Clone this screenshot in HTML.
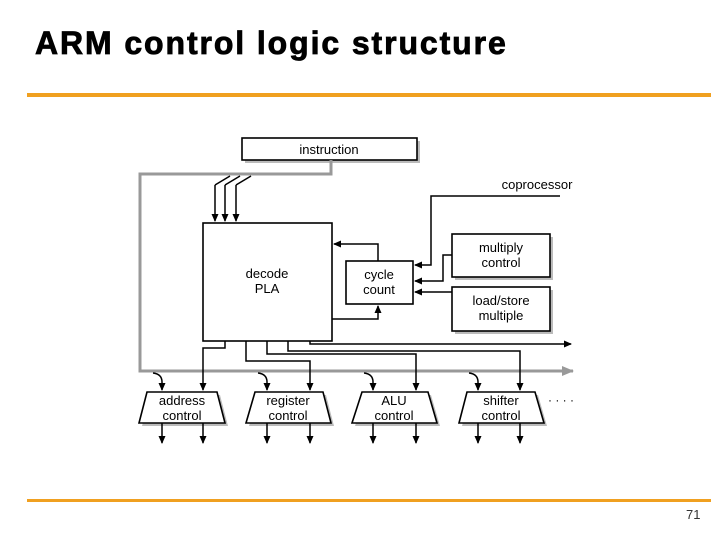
<!DOCTYPE html>
<html><head><meta charset="utf-8"><style>
body{margin:0;width:720px;height:540px;background:#fff;overflow:hidden;position:relative;font-family:"Liberation Sans",sans-serif}
.t{position:absolute;left:35px;top:25px;font-size:32px;font-weight:bold;letter-spacing:1.9px;-webkit-text-stroke:0.8px #000}
.bar{position:absolute;left:27px;width:684px;height:4px;background:#f0a020}
.pg{position:absolute;left:686px;top:507px;font-size:13px;color:#333}
</style></head><body>
<div class="t">ARM control logic structure</div>
<div class="bar" style="top:93px"></div>
<div class="bar" style="top:499px;height:3px"></div>
<div class="pg">71</div>
<svg width="720" height="540" style="position:absolute;left:0;top:0" font-family="Liberation Sans, sans-serif" font-size="13">
<defs>
<marker id="a" markerWidth="8" markerHeight="8" refX="7" refY="4" orient="auto" markerUnits="userSpaceOnUse"><path d="M0,0.5 L8,4 L0,7.5z" fill="#000"/></marker>
<marker id="g" markerWidth="12" markerHeight="10" refX="11" refY="5" orient="auto" markerUnits="userSpaceOnUse"><path d="M0,0 L12,5 L0,10z" fill="#999"/></marker>
</defs>
<g fill="#bbb">
<rect x="245" y="141" width="175" height="22"/>
<rect x="455" y="237" width="98" height="43"/>
<rect x="455" y="290" width="98" height="44"/>
<polygon points="150,395 220,395 228,426 142,426"/>
<polygon points="258,395 326,395 334,426 249,426"/>
<polygon points="365,395 431,395 440,426 355,426"/>
<polygon points="470,395 538,395 547,426 462,426"/>
</g>
<g fill="#fff" stroke="#000" stroke-width="1.6">
<rect x="242" y="138" width="175" height="22"/>
<rect x="203" y="223" width="129" height="118"/>
<rect x="346" y="261" width="67" height="43"/>
<rect x="452" y="234" width="98" height="43"/>
<rect x="452" y="287" width="98" height="44"/>
<polygon points="147,392 217,392 225,423 139,423"/>
<polygon points="255,392 323,392 331,423 246,423"/>
<polygon points="362,392 428,392 437,423 352,423"/>
<polygon points="467,392 535,392 544,423 459,423"/>
</g>
<path d="M331,160 V174 H140 V371 H573" fill="none" stroke="#999" stroke-width="3" marker-end="url(#g)"/>
<g fill="none" stroke="#000" stroke-width="1.5">
<path d="M215,185 L230,176"/><path d="M215,185 V221" marker-end="url(#a)"/>
<path d="M225,185 L240,176"/><path d="M225,185 V221" marker-end="url(#a)"/>
<path d="M236,185 L251,176"/><path d="M236,185 V221" marker-end="url(#a)"/>
<path d="M378,261 V244 H334" marker-end="url(#a)"/>
<path d="M332,319 H378 V306" marker-end="url(#a)"/>
<path d="M560,196 H431 V265 H415" marker-end="url(#a)"/>
<path d="M452,255 H443 V281 H415" marker-end="url(#a)"/>
<path d="M452,292 H415" marker-end="url(#a)"/>
<path d="M310,341 V344 H571" marker-end="url(#a)"/>
<path d="M225,341 V348 H203 V390" marker-end="url(#a)"/>
<path d="M246,341 V361 H310 V390" marker-end="url(#a)"/>
<path d="M267,341 V354 H416 V390" marker-end="url(#a)"/>
<path d="M288,341 V351 H520 V390" marker-end="url(#a)"/>
<path d="M153,373 Q162,374 162,382 V390" marker-end="url(#a)"/>
<path d="M258,373 Q267,374 267,382 V390" marker-end="url(#a)"/>
<path d="M364,373 Q373,374 373,382 V390" marker-end="url(#a)"/>
<path d="M469,373 Q478,374 478,382 V390" marker-end="url(#a)"/>
<path d="M162,423 V443" marker-end="url(#a)"/>
<path d="M203,423 V443" marker-end="url(#a)"/>
<path d="M267,423 V443" marker-end="url(#a)"/>
<path d="M310,423 V443" marker-end="url(#a)"/>
<path d="M373,423 V443" marker-end="url(#a)"/>
<path d="M416,423 V443" marker-end="url(#a)"/>
<path d="M478,423 V443" marker-end="url(#a)"/>
<path d="M520,423 V443" marker-end="url(#a)"/>
</g>
<g text-anchor="middle" fill="#000">
<text x="329" y="154">instruction</text>
<text x="267" y="278">decode</text><text x="267" y="293">PLA</text>
<text x="379" y="279">cycle</text><text x="379" y="294">count</text>
<text x="501" y="252">multiply</text><text x="501" y="267">control</text>
<text x="501" y="305">load/store</text><text x="501" y="320">multiple</text>
<text x="537" y="189">coprocessor</text>
<text x="182" y="405">address</text><text x="182" y="420">control</text>
<text x="288" y="405">register</text><text x="288" y="420">control</text>
<text x="394" y="405">ALU</text><text x="394" y="420">control</text>
<text x="501" y="405">shifter</text><text x="501" y="420">control</text>
<text x="561" y="404" font-size="12">· · · ·</text>
</g>
</svg>
</body></html>
